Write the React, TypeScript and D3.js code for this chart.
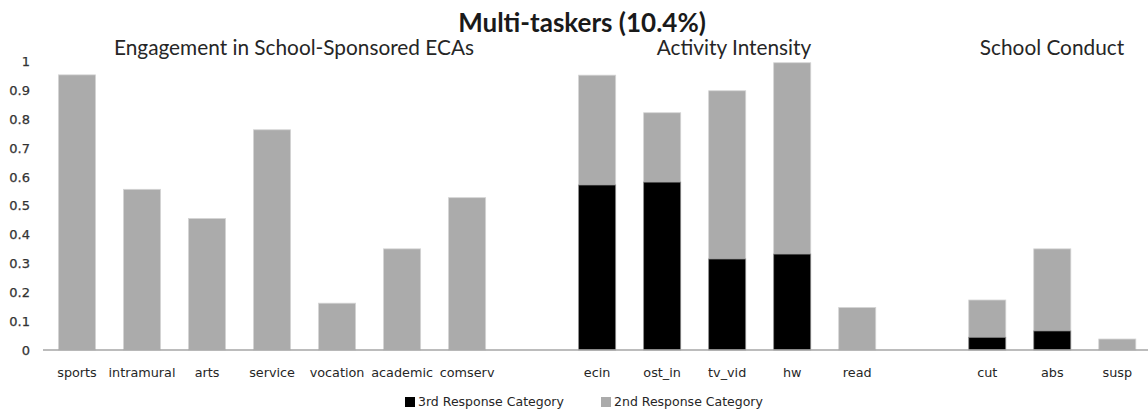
import React from "react";
import * as d3 from "d3";

const categories = ["sports", "intramural", "arts", "service", "vocation", "academic", "comserv", "gap1", "ecin", "ost_in", "tv_vid", "hw", "read", "gap2", "cut", "abs", "susp"];
const categoryLabels = ["sports", "intramural", "arts", "service", "vocation", "academic", "comserv", "", "ecin", "ost_in", "tv_vid", "hw", "read", "", "cut", "abs", "susp"];
// 3rd Response Category (bottom segment)
const thirdValues = [0, 0, 0, 0, 0, 0, 0, 0, 0.571, 0.581, 0.315, 0.332, 0, 0, 0.044, 0.066, 0];
// 2nd Response Category (stacked on top)
const secondValues = [0.952, 0.556, 0.455, 0.762, 0.162, 0.35, 0.527, 0, 0.38, 0.24, 0.582, 0.662, 0.147, 0, 0.129, 0.284, 0.038];
const yTicks = [0, 0.1, 0.2, 0.3, 0.4, 0.5, 0.6, 0.7, 0.8, 0.9, 1];
const yTickLabels = ["0", "0.1", "0.2", "0.3", "0.4", "0.5", "0.6", "0.7", "0.8", "0.9", "1"];
const chartTitle = "Multi-taskers (10.4%)";
const sectionTitles = ["Engagement in School-Sponsored ECAs", "Activity Intensity", "School Conduct"];
const seriesNames = ["3rd Response Category", "2nd Response Category"];

const W = 1148;
const H = 416;
const GRAY = "#ababab";
const BLACK = "#000000";
const VERDANA = "'DejaVu Sans', Verdana, sans-serif";
const CALIBRI = "Lato, 'Open Sans', sans-serif";

export default function App() {
  const x = d3.scaleBand<string>().domain(categories).range([44.5, 1149.8]).paddingInner(0.43).paddingOuter(0.215);
  const y = d3.scaleLinear().domain([0, 1]).range([350, 61]);
  const bw = x.bandwidth();

  const sectionX = [294, 734, 1052];

  return (
    <div style={{ position: "absolute", left: 0, top: 0 }}>
      <svg width={W} height={H} style={{ display: "block", background: "#fff" }}>
        <text x={582} y={32} textAnchor="middle" fontFamily={CALIBRI} fontWeight={700} fontSize={26} fill="#1a1a1a">
          {chartTitle}
        </text>
        {sectionTitles.map((t, i) => (
          <text key={t} x={sectionX[i]} y={55} textAnchor="middle" fontFamily={CALIBRI} fontSize={20.8} fill="#262626">
            {t}
          </text>
        ))}
        {yTicks.map((v, i) => (
          <text key={v} x={30} y={y(v)} dy="0.38em" textAnchor="end" fontFamily={VERDANA} fontSize={13} fill="#333333" stroke="#333333" strokeWidth={0.25}>
            {yTickLabels[i]}
          </text>
        ))}
        {categories.map((c, i) => {
          const x0 = x(c)!;
          const t = thirdValues[i];
          const s = secondValues[i];
          return (
            <g key={c}>
              {s > 0 && (
                <rect x={x0} y={y(t + s)} width={bw} height={y(t) - y(t + s)} fill={GRAY} stroke="#d4d4d4" strokeWidth={0.8} />
              )}
              {t > 0 && (
                <rect x={x0} y={y(t)} width={bw} height={y(0) - y(t)} fill={BLACK} stroke="#8c8c8c" strokeWidth={0.8} />
              )}
            </g>
          );
        })}
        <line x1={43} x2={1148} y1={y(0)} y2={y(0)} stroke="#a6a6a6" strokeWidth={1.5} />
        {categories.map((c, i) => (
          <text key={c} x={x(c)! + bw / 2} y={373} dy="0.35em" textAnchor="middle" fontFamily={VERDANA} fontSize={12.8} fill="#262626">
            {categoryLabels[i]}
          </text>
        ))}
        <g>
          <rect x={405} y={397} width={10} height={10} fill={BLACK} />
          <text x={418} y={402} dy="0.35em" fontFamily={VERDANA} fontSize={12.5} fill="#262626">{seriesNames[0]}</text>
          <rect x={601} y={397} width={10} height={10} fill={GRAY} />
          <text x={614} y={402} dy="0.35em" fontFamily={VERDANA} fontSize={12.5} fill="#262626">{seriesNames[1]}</text>
        </g>
      </svg>
    </div>
  );
}
